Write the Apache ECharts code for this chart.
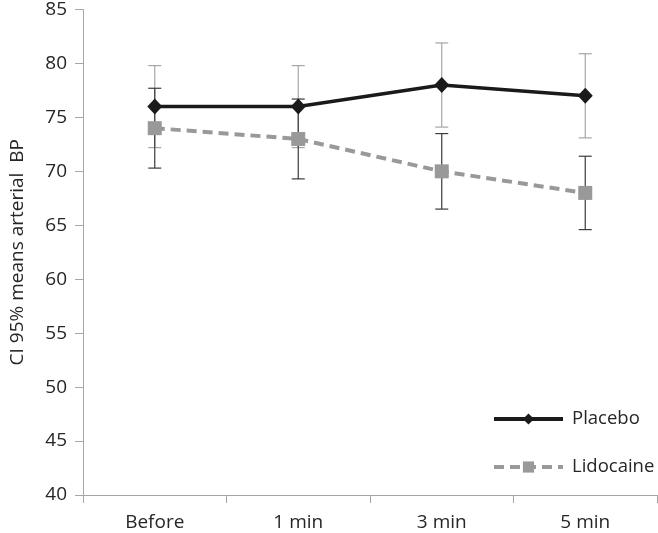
<!DOCTYPE html>
<html><head><meta charset="utf-8">
<script src="https://cdn.jsdelivr.net/npm/echarts@6/dist/echarts.min.js"></script>
<style>html,body{margin:0;padding:0;background:#fff}#c{width:658px;height:533px}</style>
</head><body><div id="c"></div>
<script>
const categories = ['Before', '1 min', '3 min', '5 min'];
const placebo = [76, 76, 78, 77];
const placeboLow = [72.2, 72.2, 74.1, 73.1];
const placeboHigh = [79.8, 79.8, 81.9, 80.9];
const lidocaine = [74, 73, 70, 68];
const lidocaineLow = [70.3, 69.3, 66.5, 64.6];
const lidocaineHigh = [77.7, 76.7, 73.5, 71.4];
const yTicks = [40, 45, 50, 55, 60, 65, 70, 75, 80, 85];

const FONT = '"Open Sans", sans-serif';
const TXT = '#262626';

function errSeries(low, high, color, z) {
  return {
    type: 'custom', z: z, silent: true,
    data: categories.map((c, i) => [i, low[i], high[i]]),
    renderItem: function (params, api) {
      const x = api.value(0);
      const lo = api.coord([x, api.value(1)]);
      const hi = api.coord([x, api.value(2)]);
      const w = 6.5;
      const st = { stroke: color, lineWidth: 1.2 };
      return { type: 'group', children: [
        { type: 'line', shape: { x1: lo[0], y1: lo[1], x2: hi[0], y2: hi[1] }, style: st },
        { type: 'line', shape: { x1: lo[0] - w, y1: lo[1], x2: lo[0] + w, y2: lo[1] }, style: st },
        { type: 'line', shape: { x1: hi[0] - w, y1: hi[1], x2: hi[0] + w, y2: hi[1] }, style: st }
      ]};
    }
  };
}

const chart = echarts.init(document.getElementById('c'));
chart.setOption({
  animation: false,
  grid: { left: 79, right: 1, top: 9, bottom: 38 },
  xAxis: {
    type: 'category', data: categories, boundaryGap: true,
    axisLine: { lineStyle: { color: '#a6a6a6', width: 1 } },
    axisTick: { show: true, length: 8, lineStyle: { color: '#a6a6a6' } },
    axisLabel: { color: TXT, fontSize: 19, fontFamily: FONT, margin: 18 }
  },
  yAxis: {
    type: 'value', min: 40, max: 85, interval: 5,
    name: 'CI 95% means arterial  BP', nameLocation: 'middle', nameGap: 56,
    nameTextStyle: { color: TXT, fontSize: 19, fontFamily: FONT },
    splitLine: { show: false },
    axisLine: { show: true, lineStyle: { color: '#a6a6a6', width: 1 } },
    axisTick: { show: true, length: 8, lineStyle: { color: '#a6a6a6' } },
    axisLabel: { color: TXT, fontSize: 19, fontFamily: FONT, margin: 16,
      formatter: v => yTicks.includes(v) ? String(v) : '' }
  },
  legend: {
    orient: 'vertical', left: 487, top: 404, itemGap: 28,
    itemWidth: 69, itemHeight: 14,
    lineStyle: { width: 4 },
    textStyle: { color: TXT, fontSize: 18.5, fontFamily: FONT, lineHeight: 20, padding: [0, 0, 0, 4] },
    data: ['Placebo', 'Lidocaine']
  },
  series: [
    errSeries(placeboLow, placeboHigh, '#a6a6a6', 1),
    errSeries(lidocaineLow, lidocaineHigh, '#3a3a3a', 2),
    {
      name: 'Lidocaine', type: 'line', data: lidocaine, z: 3,
      symbol: 'rect', symbolSize: 14,
      lineStyle: { color: '#999', width: 4, type: [10, 6] },
      itemStyle: { color: '#999' }
    },
    {
      name: 'Placebo', type: 'line', data: placebo, z: 4,
      symbol: 'diamond', symbolSize: [15, 16],
      lineStyle: { color: '#1a1a1a', width: 3.5 },
      itemStyle: { color: '#1a1a1a' }
    }
  ]
});
</script></body></html>
